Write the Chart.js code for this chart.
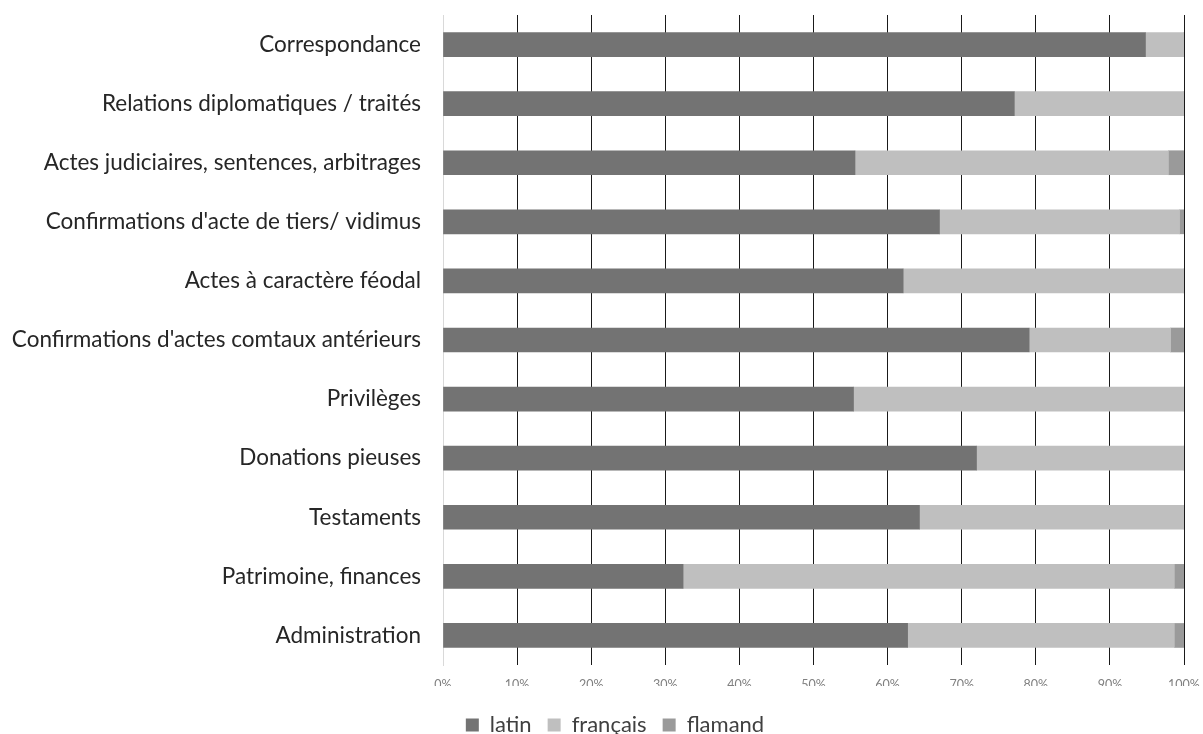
<!DOCTYPE html>
<html>
<head>
<meta charset="utf-8">
<script src="https://cdn.jsdelivr.net/npm/chart.js@4"></script>
<style>
  body { margin: 0; background: #fff; }
  #wrap { width: 1203px; height: 734px; }
</style>
</head>
<body>
<div id="wrap"><canvas id="myChart"></canvas></div>
<script>
'use strict';
// categories, top to bottom
let categories = ['Correspondance', 'Relations diplomatiques / traités', 'Actes judiciaires, sentences, arbitrages',
  'Confirmations d\'acte de tiers/ vidimus', 'Actes à caractère féodal', 'Confirmations d\'actes comtaux antérieurs',
  'Privilèges', 'Donations pieuses', 'Testaments', 'Patrimoine, finances', 'Administration'];

// share of each language (%)
let latin = [94.8, 77.1, 55.6, 67.0, 62.1, 79.1, 55.4, 72.0, 64.3, 32.4, 62.7];
let francais = [5.2, 22.9, 42.3, 32.4, 37.9, 19.1, 44.6, 28.0, 35.7, 66.3, 36.0];
let flamand = [0, 0, 2.1, 0.6, 0, 1.8, 0, 0, 0, 1.3, 1.3];

let xTicks = ['0%', '10%', '20%', '30%', '40%', '50%', '60%', '70%', '80%', '90%', '100%'];

// move the legend a little (Excel centres it differently)
let legendShift = {
  id: 'legendShift',
  afterLayout(chart) {
    let lg = chart.legend;
    lg.left += 23; lg.right += 23;
    lg.top += 12; lg.bottom += 12;
  }
};

let ctx = document.getElementById('myChart').getContext('2d');
let myChart = new Chart(ctx, {
  type: 'bar',
  data: {
    labels: categories,
    datasets: [
      { label: 'latin', data: latin, backgroundColor: '#737373' },
      { label: 'français', data: francais, backgroundColor: '#bfbfbf' },
      { label: 'flamand', data: flamand, backgroundColor: '#9a9a9a' }
    ]
  },
  options: {
    indexAxis: 'y',
    responsive: true,
    maintainAspectRatio: false,
    animation: false,
    layout: { padding: { top: 15, right: 19, left: 0, bottom: 0 } },
    datasets: { bar: { barThickness: 24, borderWidth: 0 } },
    scales: {
      x: {
        stacked: true,
        min: 0,
        max: 100,
        afterBuildTicks: function (scale) {
          scale.ticks = xTicks.map((t, i) => ({ value: i * 10 }));
        },
        afterFit: function (scale) {
          scale.height = 21;
          scale.paddingLeft = 0;
          scale.paddingRight = 0;
        },
        border: { display: false },
        grid: {
          color: (c) => c.index === 0 ? '#d9d9d9' : '#1a1a1a',
          lineWidth: 1,
          drawTicks: false,
          tickLength: 0
        },
        ticks: {
          padding: 12,
          maxRotation: 0,
          minRotation: 0,
          color: '#808080',
          font: { family: 'Lato', size: 12.5 },
          callback: (v, i) => xTicks[i]
        }
      },
      y: {
        stacked: true,
        afterFit: function (scale) {
          scale.width = 443;
          scale.paddingTop = 0;
          scale.paddingBottom = 0;
        },
        border: { display: true, color: '#d9d9d9' },
        grid: { display: false, drawTicks: false },
        ticks: {
          padding: 22,
          color: '#262626',
          font: { family: 'Lato', size: 22.5 }
        }
      }
    },
    plugins: {
      legend: {
        position: 'bottom',
        labels: {
          boxWidth: 13,
          boxHeight: 13,
          padding: 16,
          color: '#404040',
          font: { family: 'Lato', size: 22 }
        }
      },
      tooltip: { enabled: false }
    }
  },
  plugins: [legendShift]
});
</script>
</body>
</html>
